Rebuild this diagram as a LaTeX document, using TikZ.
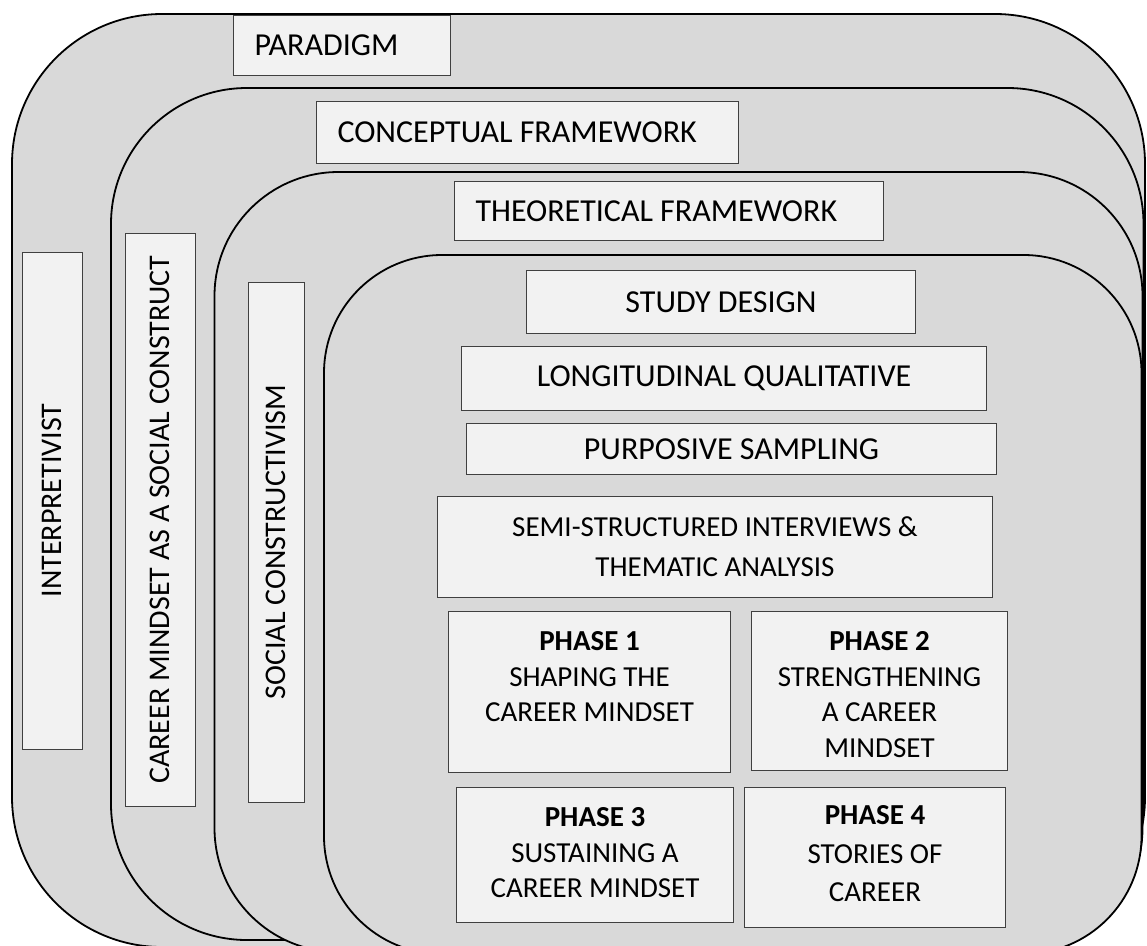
\documentclass[tikz,border=0pt]{standalone}
\usepackage{fontspec}
\setmainfont{Carlito}
\usepackage{xcolor}
\definecolor{layergray}{RGB}{217,217,217}
\definecolor{boxfill}{RGB}{242,242,242}
\definecolor{boxline}{RGB}{64,64,64}

\tikzset{
  layer/.style={draw=black, line width=1.8pt, fill=layergray},
  box/.style={rectangle, draw=boxline, line width=1pt, fill=boxfill, inner sep=0pt,
    anchor=north west, font=\fontsize{32}{38}\selectfont},
  titlebox/.style={box, inner xsep=21pt, align=flush left},
  % multi-line text sits on its last baseline, so height counts all lines but the depth
  phasebox/.style={box, align=center, font=\fontsize{29}{35.5}\selectfont},
  sidebox/.style={box, anchor=center, rotate=90, font=\fontsize{30}{36}\selectfont}
}

\begin{document}
\begin{tikzpicture}[x=1pt, y=-1pt]
\useasboundingbox (0,0) rectangle (1147,945);
\clip (0,0) rectangle (1147,945);

% nested layers, outermost first
\draw[layer, rounded corners=150pt] (12,14) rectangle (1145,947);
\draw[layer, rounded corners=136pt] (111,88) rectangle (1143.5,940);
\draw[layer, rounded corners=124pt] (214.5,172) rectangle (1142.5,952);
\draw[layer, rounded corners=118pt] (324,255) rectangle (1141.5,954);

% layer titles
\node[titlebox, text width=175pt, minimum height=60pt] (paradigm) at (233,15) {PARADIGM};
\node[titlebox, text width=380pt, minimum height=62pt] (concept) at (316,101) {CONCEPTUAL FRAMEWORK};
\node[titlebox, text width=387pt, minimum height=59pt] (theory) at (454,181) {THEORETICAL FRAMEWORK};

% side labels
\node[sidebox, minimum width=497pt, minimum height=60pt] (interp) at (52,500.5) {INTERPRETIVIST};
\node[sidebox, minimum width=573pt, minimum height=70pt] (mindset) at (160,519.5) {CAREER MINDSET AS A SOCIAL CONSTRUCT};
\node[sidebox, minimum width=520pt, minimum height=56pt] (constr) at (276,542) {SOCIAL CONSTRUCTIVISM};

% study design stack
\node[box, minimum width=389pt, minimum height=63pt] (design) at (526,270) {STUDY DESIGN};
\node[box, minimum width=525pt, minimum height=64pt] (longit) at (461,346) {LONGITUDINAL QUALITATIVE};
\node[box, minimum width=530pt, minimum height=51pt] (sampling) at (466,423) {PURPOSIVE SAMPLING};
\node[box, align=center, minimum width=555pt, minimum height=101pt,
  font=\fontsize{29}{40}\selectfont] (interviews) at (437,496)
  {SEMI-STRUCTURED INTERVIEWS \&\\THEMATIC ANALYSIS};

% phases
\node[phasebox, minimum width=282pt, text height=110pt, text depth=51pt] (phase1) at (448,611)
  {\textbf{PHASE 1}\\SHAPING THE\\CAREER MINDSET};
\node[phasebox, minimum width=256pt, text height=145.5pt, text depth=13.5pt] (phase2) at (751,611)
  {\textbf{PHASE 2}\\STRENGTHENING\\A CAREER\\MINDSET};
\node[phasebox, minimum width=277pt, text height=110pt, text depth=25pt] (phase3) at (456,787)
  {\textbf{PHASE 3}\\SUSTAINING A\\CAREER MINDSET};
\node[phasebox, minimum width=261pt, text height=114pt, text depth=26pt,
  font=\fontsize{29}{38.5}\selectfont] (phase4) at (744,787)
  {\textbf{PHASE 4}\\STORIES OF\\CAREER};
\end{tikzpicture}
\end{document}
